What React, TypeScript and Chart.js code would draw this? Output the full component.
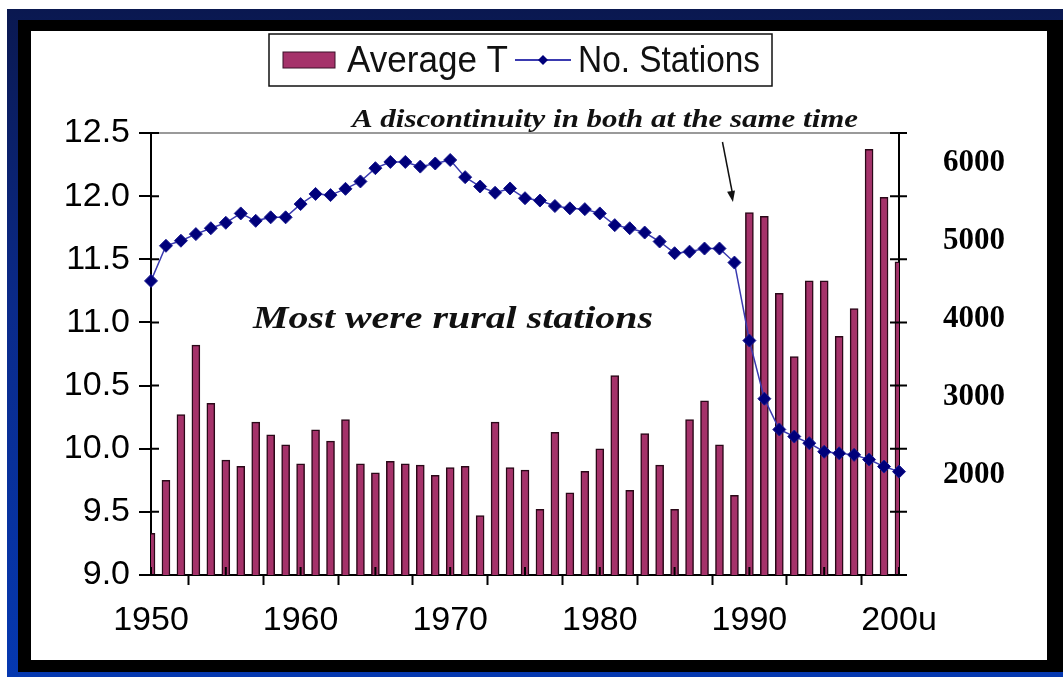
import React, { useEffect, useRef } from "react";
import { Chart, registerables } from "chart.js";

Chart.register(...registerables);

const years = [
  1950, 1951, 1952, 1953, 1954, 1955, 1956, 1957, 1958, 1959,
  1960, 1961, 1962, 1963, 1964, 1965, 1966, 1967, 1968, 1969,
  1970, 1971, 1972, 1973, 1974, 1975, 1976, 1977, 1978, 1979,
  1980, 1981, 1982, 1983, 1984, 1985, 1986, 1987, 1988, 1989,
  1990, 1991, 1992, 1993, 1994, 1995, 1996, 1997, 1998, 1999,
  2000,
];

const averageT = [
  9.33, 9.75, 10.27, 10.82, 10.36, 9.91, 9.86, 10.21, 10.11, 10.03,
  9.88, 10.15, 10.06, 10.23, 9.88, 9.81, 9.9, 9.88, 9.87, 9.79,
  9.85, 9.86, 9.47, 10.21, 9.85, 9.83, 9.52, 10.13, 9.65, 9.82,
  10.0, 10.58, 9.67, 10.12, 9.87, 9.52, 10.23, 10.38, 10.03, 9.63,
  11.87, 11.84, 11.23, 10.73, 11.33, 11.33, 10.89, 11.11, 12.37, 11.99,
  11.48,
];

const stations = [
  4450, 4900, 4965, 5050, 5125, 5195, 5315, 5220, 5265, 5265,
  5435, 5565, 5550, 5630, 5725, 5895, 5975, 5975, 5915, 5955,
  6000, 5780, 5660, 5580, 5635, 5510, 5480, 5410, 5380, 5370,
  5315, 5165, 5125, 5070, 4955, 4805, 4825, 4865, 4865, 4685,
  3685, 2940, 2545, 2455, 2370, 2260, 2240, 2220, 2160, 2070,
  2005,
];

const leftTicks = [9.0, 9.5, 10.0, 10.5, 11.0, 11.5, 12.0, 12.5];
const rightTicks = [2000, 3000, 4000, 5000, 6000];
const xTickYears = [1950, 1955, 1960, 1965, 1970, 1975, 1980, 1985, 1990, 1995, 2000];
const xLabelYears = [1950, 1960, 1970, 1980, 1990, 2000];
const xLabels = ["1950", "1960", "1970", "1980", "1990", "200u"];

const seriesNames = ["Average T", "No. Stations"];
const noteTop = "A discontinuity in both at the same time";
const noteMid = "Most were rural stations";

const BAR_FILL = "#a5326a";
const BAR_EDGE = "#2a0818";
const LINE_COLOR = "#3a3ab0";
const MARKER = "#00007a";

function scaledText(
  ctx: CanvasRenderingContext2D,
  text: string,
  font: string,
  x: number,
  y: number,
  width: number
) {
  ctx.save();
  ctx.font = font;
  ctx.textAlign = "left";
  ctx.textBaseline = "alphabetic";
  const w = ctx.measureText(text).width;
  ctx.translate(x, y);
  ctx.scale(width / w, 1);
  ctx.fillText(text, 0, 0);
  ctx.restore();
}

const decorPlugin = {
  id: "decor",
  afterDraw(chart: any) {
    const ctx: CanvasRenderingContext2D = chart.ctx;
    const area = chart.chartArea;
    const xs = chart.scales.x;
    const ys = chart.scales.y;
    ctx.save();
    ctx.strokeStyle = "#000";
    ctx.lineWidth = 2;
    // inner parts of tick marks (crossing ticks)
    ctx.beginPath();
    leftTicks.forEach((v) => {
      const py = ys.getPixelForValue(v);
      ctx.moveTo(area.left, py);
      ctx.lineTo(area.left + 8, py);
      ctx.moveTo(area.right - 9, py);
      ctx.lineTo(area.right + 8, py);
    });
    xTickYears.forEach((v) => {
      const px = xs.getPixelForValue(v);
      ctx.moveTo(px, area.bottom);
      ctx.lineTo(px, area.bottom - 8);
    });
    ctx.stroke();

    // legend
    ctx.lineWidth = 1.5;
    ctx.strokeStyle = "#111";
    ctx.strokeRect(269, 34, 503, 52);
    ctx.fillStyle = BAR_FILL;
    ctx.fillRect(283, 52, 52, 16);
    ctx.strokeStyle = "#3a1028";
    ctx.lineWidth = 1;
    ctx.strokeRect(283, 52, 52, 16);
    ctx.fillStyle = "#111";
    scaledText(ctx, seriesNames[0], '36px "Liberation Sans", Arial, sans-serif', 347, 72, 161);
    ctx.strokeStyle = LINE_COLOR;
    ctx.lineWidth = 2;
    ctx.beginPath();
    ctx.moveTo(515, 60);
    ctx.lineTo(571, 60);
    ctx.stroke();
    ctx.fillStyle = MARKER;
    ctx.beginPath();
    ctx.moveTo(543, 55);
    ctx.lineTo(548, 60);
    ctx.lineTo(543, 65);
    ctx.lineTo(538, 60);
    ctx.closePath();
    ctx.fill();
    ctx.fillStyle = "#111";
    scaledText(ctx, seriesNames[1], '36px "Liberation Sans", Arial, sans-serif', 578, 72, 182);

    // annotations
    ctx.fillStyle = "#111";
    scaledText(ctx, noteTop, 'italic bold 25px "Liberation Serif", "Times New Roman", serif', 352, area.top - 6, 506);
    scaledText(ctx, noteMid, 'italic bold 31px "Liberation Serif", "Times New Roman", serif', 253, 328, 400);

    // arrow
    const x0 = xs.getPixelForValue(1988.2);
    const x1 = xs.getPixelForValue(1988.9);
    const y0 = area.top + 9;
    const y1 = area.top + 69;
    ctx.strokeStyle = "#111";
    ctx.lineWidth = 1.5;
    ctx.beginPath();
    ctx.moveTo(x0, y0);
    ctx.lineTo(x1, y1 - 6);
    ctx.stroke();
    const ang = Math.atan2(y1 - y0, x1 - x0);
    ctx.beginPath();
    ctx.moveTo(x1, y1);
    ctx.lineTo(x1 - 11 * Math.cos(ang) + 4 * Math.sin(ang), y1 - 11 * Math.sin(ang) - 4 * Math.cos(ang));
    ctx.lineTo(x1 - 11 * Math.cos(ang) - 4 * Math.sin(ang), y1 - 11 * Math.sin(ang) + 4 * Math.cos(ang));
    ctx.closePath();
    ctx.fill();
    ctx.restore();
  },
};

export default function App() {
  const ref = useRef<HTMLCanvasElement | null>(null);

  useEffect(() => {
    if (!ref.current) return;
    const chart = new Chart(ref.current, {
      type: "bar",
      data: {
        datasets: [
          {
            type: "line",
            label: seriesNames[1],
            data: years.map((y, i) => ({ x: y, y: stations[i] })),
            yAxisID: "y1",
            borderColor: LINE_COLOR,
            borderWidth: 1.5,
            tension: 0,
            pointStyle: "rectRot",
            pointRadius: 6.5,
            pointBorderWidth: 1,
            pointBackgroundColor: MARKER,
            pointBorderColor: "#1a1a90",
            clip: false,
            order: 0,
          } as any,
          {
            type: "bar",
            label: seriesNames[0],
            data: years.map((y, i) => ({ x: y, y: averageT[i] })),
            yAxisID: "y",
            backgroundColor: BAR_FILL,
            borderColor: BAR_EDGE,
            borderWidth: 1.5,
            barThickness: 8,
            clip: 0,
            order: 1,
          } as any,
        ],
      },
      options: {
        responsive: false,
        animation: false,
        layout: { padding: { top: 133, left: 0, right: 0, bottom: 0 } },
        plugins: {
          legend: { display: false },
          tooltip: { enabled: false },
        },
        scales: {
          x: {
            type: "linear",
            min: 1950,
            max: 2000,
            offset: false,
            afterBuildTicks: (s: any) => {
              s.ticks = xTickYears.map((v) => ({ value: v }));
            },
            afterFit: (s: any) => {
              s.height = 102;
            },
            ticks: {
              autoSkip: false,
              maxRotation: 0,
              color: "#000",
              padding: 15,
              font: { family: '"Liberation Sans", Arial, sans-serif', size: 34 },
              callback: (v: any) => {
                const i = xLabelYears.indexOf(Number(v));
                return i >= 0 ? xLabels[i] : "";
              },
            },
            grid: {
              drawOnChartArea: false,
              drawTicks: true,
              tickLength: 10,
              tickColor: "#000",
              tickWidth: 2,
            },
            border: { display: true, color: "#000", width: 2 },
          },
          y: {
            type: "linear",
            position: "left",
            min: 9,
            max: 12.5,
            afterBuildTicks: (s: any) => {
              s.ticks = leftTicks.map((v) => ({ value: v }));
            },
            afterFit: (s: any) => {
              s.width = 151;
            },
            ticks: {
              color: "#000",
              padding: 9,
              font: { family: '"Liberation Sans", Arial, sans-serif', size: 34 },
              callback: (v: any) => Number(v).toFixed(1),
            },
            grid: {
              drawOnChartArea: true,
              color: (c: any) => (c.tick && c.tick.value === 12.5 ? "#9a9a9a" : "rgba(0,0,0,0)"),
              lineWidth: 2,
              drawTicks: true,
              tickLength: 12,
              tickColor: "#000",
              tickWidth: 2,
            },
            border: { display: true, color: "#000", width: 2 },
          },
          y1: {
            type: "linear",
            position: "right",
            min: 680,
            max: 6346,
            afterBuildTicks: (s: any) => {
              s.ticks = rightTicks.map((v) => ({ value: v }));
            },
            afterFit: (s: any) => {
              s.width = 164;
            },
            ticks: {
              color: "#000",
              padding: 36,
              labelOffset: 3,
              font: { family: '"Liberation Serif", "Times New Roman", serif', size: 31, weight: "bold" },
              callback: (v: any) => String(v),
            },
            grid: { display: false },
            border: { display: true, color: "#000", width: 2 },
          },
        },
      },
      plugins: [decorPlugin],
    } as any);
    return () => chart.destroy();
  }, []);

  return (
    <div style={{ position: "relative", width: 1063, height: 677, background: "#fff", overflow: "hidden" }}>
      <style>{`body{margin:0}`}</style>
      <div
        style={{
          position: "absolute",
          left: 7,
          top: 9,
          right: 0,
          bottom: 0,
          background: "linear-gradient(180deg, #0a1850 0%, #0a2a8a 45%, #0538b0 100%)",
        }}
      />
      <div style={{ position: "absolute", left: 18, top: 20, width: 1045, height: 652, background: "#000" }} />
      <div style={{ position: "absolute", left: 31, top: 31, width: 1016, height: 629, background: "#fff" }} />
      <canvas
        ref={ref}
        width={1063}
        height={677}
        style={{ position: "absolute", left: 0, top: 0, width: 1063, height: 677 }}
      />
    </div>
  );
}
